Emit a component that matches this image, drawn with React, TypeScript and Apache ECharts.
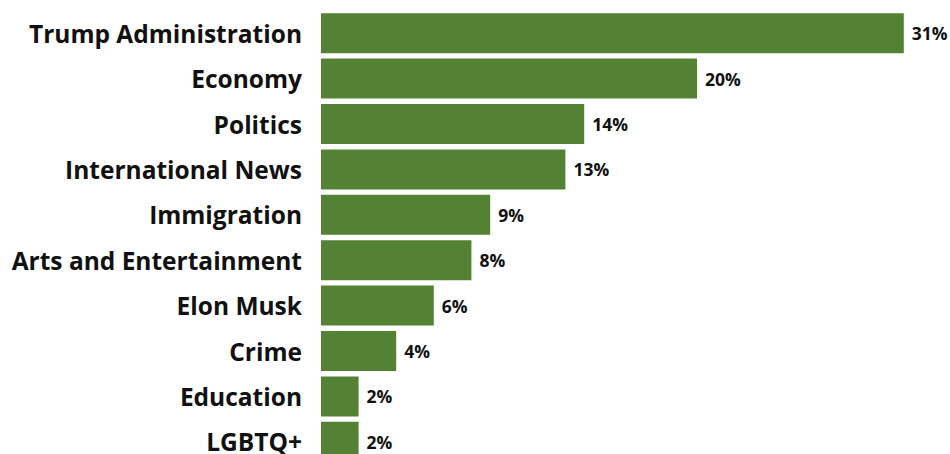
import React, { useEffect, useRef } from "react";
import * as echarts from "echarts";

const categories = [
  "Trump Administration",
  "Economy",
  "Politics",
  "International News",
  "Immigration",
  "Arts and Entertainment",
  "Elon Musk",
  "Crime",
  "Education",
  "LGBTQ+",
];
const values = [31, 20, 14, 13, 9, 8, 6, 4, 2, 2];

export default function App() {
  const ref = useRef<HTMLDivElement>(null);
  useEffect(() => {
    if (!ref.current) return;
    const chart = echarts.init(ref.current, undefined, { renderer: "svg" });
    chart.setOption({
      animation: false,
      backgroundColor: "#ffffff",
      grid: { left: 321, top: 10.5, width: 32 * 18.8, height: 454, containLabel: false },
      xAxis: {
        type: "value",
        min: 0,
        max: 32,
        show: false,
      },
      yAxis: {
        type: "category",
        data: categories,
        inverse: true,
        axisLine: { show: false },
        axisTick: { show: false },
        axisLabel: {
          margin: 19,
          color: "#111111",
          fontFamily: "Open Sans",
          fontWeight: "bold",
          fontSize: 24.5,
        },
      },
      series: [
        {
          type: "bar",
          data: values,
          barCategoryGap: "12%",
          itemStyle: { color: "#548235" },
          label: {
            show: true,
            position: "right",
            distance: 8,
            formatter: "{c}%",
            color: "#111111",
            fontFamily: "Open Sans",
            fontWeight: "bold",
            fontSize: 17.5,
          },
        },
      ],
    });
    return () => chart.dispose();
  }, []);
  return (
    <div
      style={{
        position: "fixed",
        left: 0,
        top: 0,
        width: 950,
        height: 454,
        overflow: "hidden",
        background: "#ffffff",
      }}
    >
      <div ref={ref} style={{ width: 950, height: 480 }} />
    </div>
  );
}
